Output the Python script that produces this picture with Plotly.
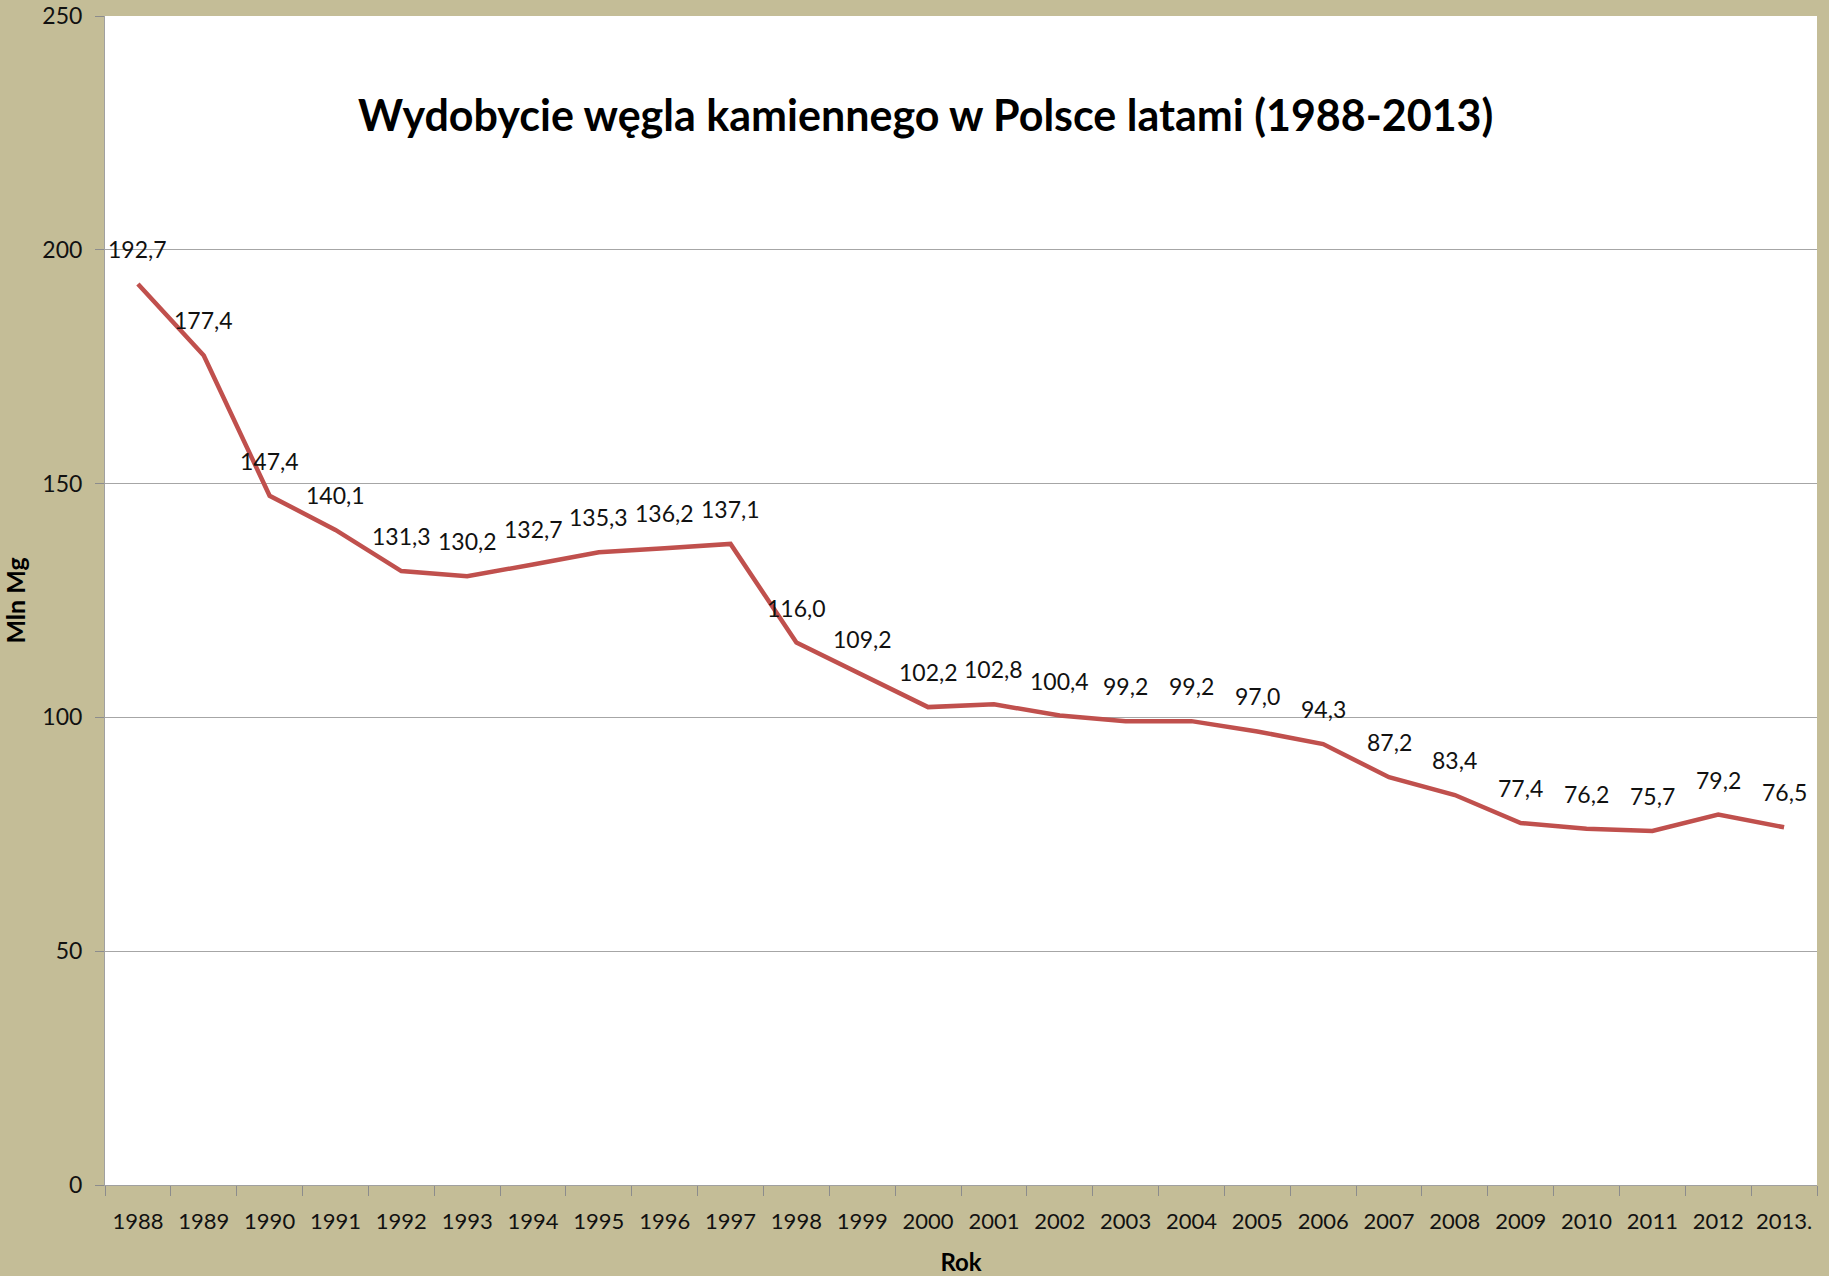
import plotly.graph_objects as go

years = ["1988", "1989", "1990", "1991", "1992", "1993", "1994", "1995", "1996",
         "1997", "1998", "1999", "2000", "2001", "2002", "2003", "2004", "2005",
         "2006", "2007", "2008", "2009", "2010", "2011", "2012", "2013."]
production = [192.7, 177.4, 147.4, 140.1, 131.3, 130.2, 132.7, 135.3, 136.2,
              137.1, 116.0, 109.2, 102.2, 102.8, 100.4, 99.2, 99.2, 97.0,
              94.3, 87.2, 83.4, 77.4, 76.2, 75.7, 79.2, 76.5]
y_ticks = [0, 50, 100, 150, 200, 250]

title_text = "Wydobycie węgla kamiennego w Polsce latami (1988-2013)"
y_title = "Mln Mg"
x_title = "Rok"

FONT = "Lato"
BG = "#C4BD97"
LINE = "#C0504D"
GRID = "#A6A6A6"

W, H = 1829, 1276
ML, MR, MT, MB = 105, 12, 16, 91
pw, ph = W - ML - MR, H - MT - MB

fig = go.Figure()
fig.add_trace(go.Scatter(
    x=years, y=production, mode="lines",
    line=dict(color=LINE, width=4.5),
    hoverinfo="x+y", showlegend=False,
))

for i, v in enumerate(production):
    fig.add_annotation(
        x=i, y=v, xref="x", yref="y",
        text=f"{v:.1f}".replace(".", ","),
        showarrow=False, yshift=35, yanchor="middle", xanchor="center",
        font=dict(family=FONT, size=23, color="#111111"),
    )

fig.add_annotation(
    x=(925 - ML) / pw, y=(H - 114 - MB) / ph, xref="paper", yref="paper",
    text=f"<b>{title_text}</b>", showarrow=False,
    font=dict(family=FONT, size=43, color="#000000"),
    xanchor="center", yanchor="middle",
)

fig.update_layout(
    width=W, height=H, autosize=False,
    margin=dict(l=ML, r=MR, t=MT, b=MB, pad=0, autoexpand=False),
    paper_bgcolor=BG, plot_bgcolor="#FFFFFF",
    font=dict(family=FONT, size=23, color="#111111"),
    xaxis=dict(
        type="category", range=[-0.5, len(years) - 0.5],
        tickson="boundaries", ticks="outside", ticklen=10, tickcolor="#8C8C8C",
        ticklabelstandoff=17, tickangle=0, automargin=False,
        showgrid=False, showline=True, linecolor="#A0A0A0", linewidth=1,
        tickfont=dict(family=FONT, size=22, color="#111111"),
        title=dict(text=f"<b>{x_title}</b>", font=dict(family=FONT, size=24, color="#000000"), standoff=20),
        zeroline=False,
    ),
    yaxis=dict(
        range=[0, 250], tickvals=y_ticks, ticks="outside", ticklen=9, tickcolor="#8C8C8C",
        ticklabelstandoff=8, automargin=False,
        showgrid=True, gridcolor=GRID, gridwidth=1,
        showline=True, linecolor="#A0A0A0", linewidth=1,
        tickfont=dict(family=FONT, size=23, color="#111111"),
        title=dict(text=f"<b>{y_title}</b>", font=dict(family=FONT, size=25, color="#000000"), standoff=13),
        zeroline=False,
    ),
)

fig.write_html("out.html", config={"displayModeBar": False},
               post_script="document.body.style.margin='0';")
